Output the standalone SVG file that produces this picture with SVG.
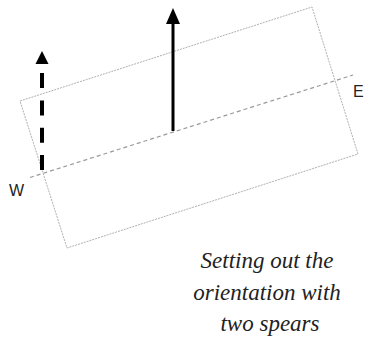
<svg xmlns="http://www.w3.org/2000/svg" width="365" height="340" viewBox="0 0 365 340">
<style>
.frame{fill:none;stroke:#b0b0b0;stroke-width:1;stroke-dasharray:2 1}
.mid{fill:none;stroke:#999;stroke-width:1.2;stroke-dasharray:4 3}
.spear{stroke:#000;fill:none}
.head{fill:#000}
.lbl{font-family:"Liberation Sans",Arial,sans-serif;font-size:16px;fill:#222}
.cap{font-family:"Liberation Serif","Times New Roman",serif;font-style:italic;font-size:23px;fill:#222;text-anchor:middle}
</style>
<rect width="365" height="340" fill="#fff"/>
<g id="plot">
<polygon class="frame" points="20,101 312,7 358,154 67,248"/>
</g>
<g id="connectors">
<line class="mid" x1="30" y1="177.5" x2="353" y2="75"/>
<line class="spear" x1="42" y1="170" x2="42" y2="73" stroke-width="4" stroke-dasharray="15 12.3"/>
<polygon class="head" points="42,51 35.5,64 48.5,64"/>
<line class="spear" x1="173" y1="131" x2="173" y2="22" stroke-width="3"/>
<polygon class="head" points="173,8 166,24 180,24"/>
</g>
<g id="labels">
<text class="lbl" x="9" y="196">W</text>
<text class="lbl" x="353" y="97">E</text>
</g>
<g id="caption">
<text class="cap" x="267" y="268">Setting out the</text>
<text class="cap" x="267" y="300">orientation with</text>
<text class="cap" x="270" y="331">two spears</text>
</g>
</svg>
